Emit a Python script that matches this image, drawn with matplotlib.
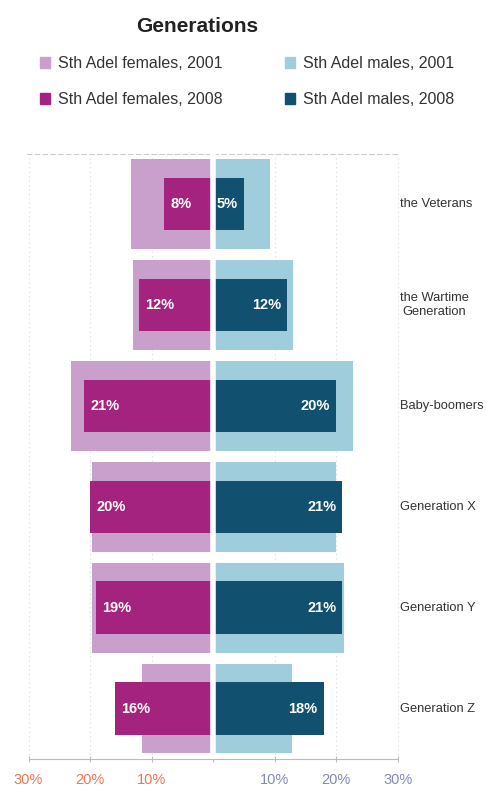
import matplotlib.pyplot as plt
from matplotlib.patches import Patch

plt.rcParams["font.family"] = ["Liberation Sans", "DejaVu Sans"]

generations = ["the Veterans", "the Wartime\nGeneration", "Baby-boomers",
               "Generation X", "Generation Y", "Generation Z"]
females_2001 = [13.3, 13.0, 23.1, 19.7, 19.7, 11.6]
males_2001 = [9.3, 13.0, 22.8, 20.0, 21.3, 12.9]
females_2008 = [8, 12, 21, 20, 19, 16]
males_2008 = [5, 12, 20, 21, 21, 18]
tick_values = [-30, -20, -10, 0, 10, 20, 30]
tick_labels = ["30%", "20%", "10%", "", "10%", "20%", "30%"]

c_f01 = "#c8a0cb"
c_f08 = "#a4237f"
c_m01 = "#a0cddb"
c_m08 = "#11506f"

fig = plt.figure(figsize=(4.86, 7.91), dpi=100)
ax = fig.add_axes([0.046, 0.0405, 0.785, 0.765])

y = list(range(len(generations)))

ax.barh(y, [-v for v in females_2001], height=0.89, color=c_f01, zorder=2)
ax.barh(y, males_2001, height=0.89, color=c_m01, zorder=2)
ax.barh(y, [-v for v in females_2008], height=0.52, color=c_f08, zorder=3)
ax.barh(y, males_2008, height=0.52, color=c_m08, zorder=3)
ax.axvline(0, color="white", lw=4, zorder=4)

for i in y:
    ax.text(-females_2008[i] + 1.0, i, f"{females_2008[i]}%", color="white",
            fontsize=10.5, fontweight="bold", ha="left", va="center", zorder=5)
    ax.text(males_2008[i] - 1.0, i, f"{males_2008[i]}%", color="white",
            fontsize=10.5, fontweight="bold", ha="right", va="center", zorder=5)
    ax.text(30.4, i, generations[i], color="#333333", fontsize=9.3,
            ha="left", va="center", multialignment="center", clip_on=False)

ax.set_xlim(-31, 31)
ax.set_ylim(5.5, -0.5)

for v in [-30, -20, -10, 10, 20, 30]:
    ax.axvline(v, color="#d8d8d8", lw=0.8, ls=(0, (1, 3)), zorder=1)

ax.set_yticks([])
ax.set_xticks(tick_values)
ax.set_xticklabels(tick_labels, fontsize=10.5)
for lbl, v in zip(ax.get_xticklabels(), tick_values):
    lbl.set_color("#f07552" if v < 0 else "#8489b5")
ax.tick_params(axis="x", length=4, direction="inout", color="#bbbbbb", pad=8)

for side in ["left", "right"]:
    ax.spines[side].set_visible(False)
ax.spines["bottom"].set_color("#bbbbbb")
ax.spines["bottom"].set_bounds(-30, 30)
ax.spines["top"].set_color("#cccccc")
ax.spines["top"].set_linestyle((0, (4, 3)))
ax.spines["top"].set_bounds(-30.3, 30.3)

fig.text(0.405, 0.967, "Generations", fontsize=15, fontweight="bold",
         ha="center", va="center", color="#222222")

handles = [Patch(color=c_f01, label="Sth Adel females, 2001"),
           Patch(color=c_f08, label="Sth Adel females, 2008"),
           Patch(color=c_m01, label="Sth Adel males, 2001"),
           Patch(color=c_m08, label="Sth Adel males, 2008")]
leg = fig.legend(handles=handles, ncol=2, loc="upper left",
                 bbox_to_anchor=(0.082, 0.929), frameon=False, fontsize=11.5,
                 handlelength=0.63, handleheight=0.63, handletextpad=0.5,
                 labelspacing=1.3, columnspacing=3.9, borderaxespad=0,
                 borderpad=0)
for t in leg.get_texts():
    t.set_color("#333333")

fig.savefig("out.png", dpi=100)
